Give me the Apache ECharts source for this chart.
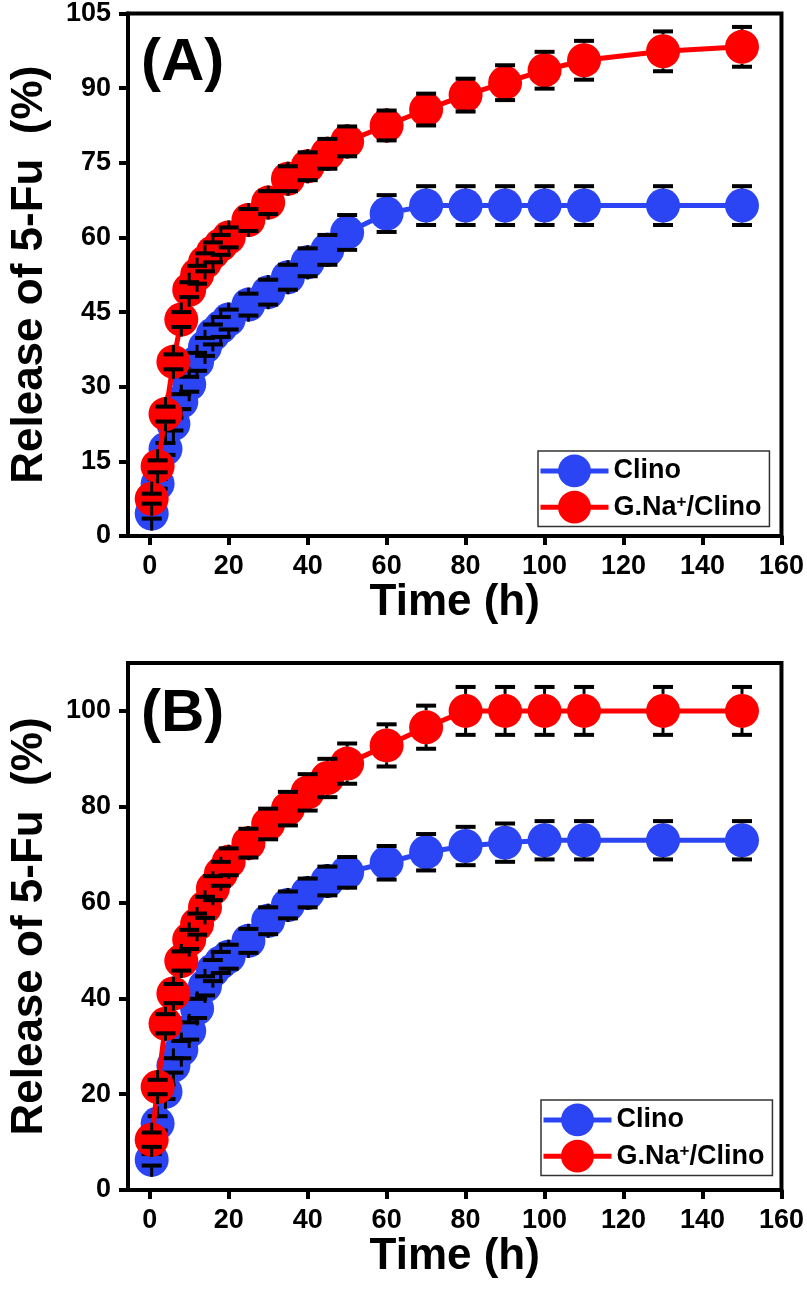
<!DOCTYPE html>
<html>
<head>
<meta charset="utf-8">
<script src="https://cdn.jsdelivr.net/npm/echarts@6/dist/echarts.min.js"></script>
<style>
html,body{margin:0;padding:0;background:#fff;}
#chart{width:807px;height:1293px;}
</style>
</head>
<body>
<div id="chart"></div>
<script>
// ---- data ----
const timeA = [0.5, 2, 4, 6, 8, 10, 12, 14, 16, 18, 20, 25, 30, 35, 40, 45, 50, 60, 70, 80, 90, 100, 110, 130, 150];
const clinoA = [4.5, 10.5, 17.5, 22.5, 27, 30.5, 35, 38, 40.5, 42, 43.5, 46.5, 49, 52, 55, 57.5, 61, 64.8, 66.4, 66.4, 66.4, 66.4, 66.4, 66.4, 66.4];
const clinoAErr = [1, 1, 1.2, 1.3, 1.5, 1.5, 1.8, 1.8, 2, 2, 2, 2.2, 2.5, 2.5, 2.8, 3, 3.5, 3.7, 3.9, 3.9, 3.9, 3.9, 3.9, 3.9, 3.9];
const gnaA = [7.5, 14, 24.5, 35, 43.5, 49.5, 52.5, 55, 57, 58.5, 60, 63.5, 67, 71.8, 74.3, 76.8, 79.3, 82.5, 85.7, 88.6, 91.1, 93.6, 95.6, 97.4, 98.3];
const gnaAErr = [1, 1.2, 1.5, 1.5, 1.5, 1.5, 1.8, 1.8, 2, 2, 2, 2.2, 2.3, 2.5, 2.8, 3, 3, 3, 3.2, 3.3, 3.5, 3.7, 3.9, 4, 4];

const timeB = [0.5, 2, 4, 6, 8, 10, 12, 14, 16, 18, 20, 25, 30, 35, 40, 45, 50, 60, 70, 80, 90, 100, 110, 130, 150];
const clinoB = [6.3, 13.9, 20.5, 26, 29.3, 33.2, 37.9, 42.6, 45.8, 47.5, 48.7, 52, 56.2, 59.5, 62, 64.5, 66.3, 68.3, 70.5, 71.8, 72.5, 73, 73, 73, 73];
const clinoBErr = [1.2, 1.5, 1.5, 1.5, 1.8, 1.8, 2, 2, 2.2, 2.2, 2.5, 2.5, 2.8, 2.8, 3, 3, 3.2, 3.5, 3.8, 4, 4, 4, 4, 4, 4];
const gnaB = [10.5, 21.5, 34.7, 41, 47.8, 52.3, 55.5, 59, 63, 66, 68.5, 72.4, 76.4, 79.6, 83, 86, 89, 92.8, 96.6, 100, 100, 100, 100, 100, 100];
const gnaBErr = [1.5, 1.5, 2, 2, 2, 2, 2.2, 2.2, 2.5, 2.5, 2.8, 3, 3.2, 3.5, 3.8, 4, 4.2, 4.4, 4.5, 5, 5, 5, 5, 5, 5];

const xTicks = [0, 20, 40, 60, 80, 100, 120, 140, 160];
const yTicksB = [0, 20, 40, 60, 80, 100];
const seriesNames = ['Clino', 'G.Na+/Clino'];

// ---- styling ----
const BLUE = '#2B45F5';
const RED = '#FF0000';
const FONT = 'Liberation Sans';
const SYM = 34;

const chart = echarts.init(document.getElementById('chart'), null, {renderer: 'canvas'});

function pairs(xs, ys) { return xs.map((x, i) => [x, ys[i]]); }
function triples(xs, ys, es) { return xs.map((x, i) => [x, ys[i], es[i]]); }

function errRender(params, api) {
  const x = api.value(0), y = api.value(1), e = api.value(2);
  const c = api.coord([x, y]);
  const hi = api.coord([x, y + e]);
  const lo = api.coord([x, y - e]);
  const r = SYM / 2;
  const w = 10;
  const st = {stroke: '#000', lineWidth: 3};
  const cap = {stroke: '#000', lineWidth: 4};
  return {
    type: 'group',
    children: [
      {type: 'line', shape: {x1: c[0], y1: hi[1], x2: c[0], y2: c[1] - r}, style: st},
      {type: 'line', shape: {x1: c[0], y1: lo[1], x2: c[0], y2: c[1] + r}, style: st},
      {type: 'line', shape: {x1: c[0] - w, y1: hi[1], x2: c[0] + w, y2: hi[1]}, style: cap},
      {type: 'line', shape: {x1: c[0] - w, y1: lo[1], x2: c[0] + w, y2: lo[1]}, style: cap}
    ]
  };
}

function lineSeries(name, idx, xs, ys, color, z) {
  return {
    name: name, type: 'line', xAxisIndex: idx, yAxisIndex: idx,
    data: pairs(xs, ys), symbol: 'circle', symbolSize: SYM,
    itemStyle: {color: color}, lineStyle: {color: color, width: 5},
    z: z, animation: false, silent: true
  };
}
function errSeries(name, idx, xs, ys, es, z) {
  return {
    name: name, type: 'custom', xAxisIndex: idx, yAxisIndex: idx,
    data: triples(xs, ys, es), renderItem: errRender, z: z,
    animation: false, silent: true, clip: false
  };
}

const axisLabelStyle = {color: '#000', fontFamily: FONT, fontWeight: 'bold', fontSize: 27};
const nameStyle = {color: '#000', fontFamily: FONT, fontWeight: 'bold', fontSize: 44};

function xAxis(idx, gap) {
  return {
    type: 'value', gridIndex: idx, min: -5.5, max: 160,
    name: 'Time (h)', nameLocation: 'middle', nameGap: gap, nameTextStyle: nameStyle,
    axisLine: {show: true, onZero: false, lineStyle: {color: '#000', width: 4}},
    axisTick: {show: true, inside: false, length: 9, lineStyle: {color: '#000', width: 4}, customValues: xTicks},
    axisLabel: Object.assign({margin: 17, customValues: xTicks}, axisLabelStyle),
    splitLine: {show: false}
  };
}

const legendText = {
  color: '#000', fontFamily: FONT, fontWeight: 'bold', fontSize: 27,
  rich: {
    sup: {fontFamily: FONT, fontWeight: 'bold', fontSize: 17, verticalAlign: 'top', lineHeight: 14, color: '#000'}
  }
};
function legendFmt(n) { return n === 'G.Na+/Clino' ? 'G.Na{sup|+}/Clino' : n; }

function legend(left, top) {
  return {
    data: seriesNames, orient: 'vertical', left: left, top: top,
    itemWidth: 68, itemHeight: 41, itemGap: 3.5, padding: [3.5, 8, 3, 0],
    borderColor: '#333', borderWidth: 1.5, borderRadius: 0,
    lineStyle: {width: 5}, itemStyle: {borderWidth: 0},
    textStyle: legendText, formatter: legendFmt, selectedMode: false
  };
}

const option = {
  backgroundColor: '#fff',
  animation: false,
  grid: [
    {left: 128, right: 25, top: 13, height: 523, show: true, borderColor: '#000', borderWidth: 4, backgroundColor: 'transparent'},
    {left: 128, right: 25, top: 663, height: 527, show: true, borderColor: '#000', borderWidth: 4, backgroundColor: 'transparent'}
  ],
  xAxis: [xAxis(0, 30), xAxis(1, 32)],
  yAxis: [
    {
      type: 'value', gridIndex: 0, min: 0, max: 105, interval: 15,
      name: 'Release of 5-Fu  (%)', nameLocation: 'middle', nameGap: 76, nameTextStyle: nameStyle,
      axisLine: {show: true, onZero: false, lineStyle: {color: '#000', width: 4}},
      axisTick: {show: true, inside: false, length: 9, lineStyle: {color: '#000', width: 4}},
      axisLabel: Object.assign({margin: 17}, axisLabelStyle),
      splitLine: {show: false}
    },
    {
      type: 'value', gridIndex: 1, min: 0, max: 110,
      name: 'Release of 5-Fu  (%)', nameLocation: 'middle', nameGap: 76, nameTextStyle: nameStyle,
      axisLine: {show: true, onZero: false, lineStyle: {color: '#000', width: 4}},
      axisTick: {show: true, inside: false, length: 9, lineStyle: {color: '#000', width: 4}, customValues: yTicksB},
      axisLabel: Object.assign({margin: 17, customValues: yTicksB}, axisLabelStyle),
      splitLine: {show: false}
    }
  ],
  legend: [legend(538, 451), legend(541, 1100)],
  graphic: [
    {type: 'text', left: 141, top: 33, style: {text: '(A)', fill: '#000', font: 'bold 60px "Liberation Sans"'}},
    {type: 'text', left: 141, top: 684, style: {text: '(B)', fill: '#000', font: 'bold 60px "Liberation Sans"'}}
  ],
  series: [
    lineSeries('Clino', 0, timeA, clinoA, BLUE, 2),
    errSeries('errClinoA', 0, timeA, clinoA, clinoAErr, 3),
    lineSeries('G.Na+/Clino', 0, timeA, gnaA, RED, 4),
    errSeries('errGnaA', 0, timeA, gnaA, gnaAErr, 5),
    lineSeries('Clino', 1, timeB, clinoB, BLUE, 2),
    errSeries('errClinoB', 1, timeB, clinoB, clinoBErr, 3),
    lineSeries('G.Na+/Clino', 1, timeB, gnaB, RED, 4),
    errSeries('errGnaB', 1, timeB, gnaB, gnaBErr, 5)
  ]
};
chart.setOption(option);
</script>
</body>
</html>
